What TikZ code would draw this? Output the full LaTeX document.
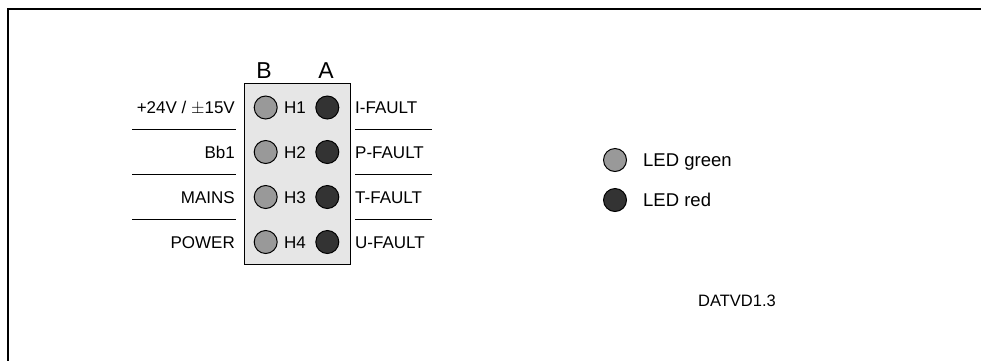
\documentclass[tikz,border=0pt]{standalone}
\usepackage{fontspec}
\setmainfont{Liberation Sans}
\definecolor{ledgreen}{HTML}{999999}
\definecolor{ledred}{HTML}{333333}
\definecolor{boxfill}{HTML}{E6E6E6}
\tikzset{
  lbl/.style={font=\fontsize{17}{20}\selectfont, inner sep=0pt},
  hdr/.style={font=\fontsize{23}{26}\selectfont, inner sep=0pt, anchor=base},
  ledbase/.style={circle, draw=black, line width=1pt, minimum size=23pt, inner sep=0pt},
  ledg/.style={ledbase, fill=ledgreen},
  ledr/.style={ledbase, fill=ledred},
  sepline/.style={line width=0.9pt, draw=black},
  frameline/.style={line width=2pt, draw=black}
}
\begin{document}
\begin{tikzpicture}[x=1pt,y=-1pt]
\useasboundingbox (0,0) rectangle (981,360);
% frame
\coordinate (fbl) at (8,361);
\coordinate (ftl) at (8,9);
\coordinate (ftr) at (982,9);
\draw[frameline] (fbl) -- (ftl) -- (ftr);
% panel box
\node[draw=black, line width=1pt, fill=boxfill, minimum width=106pt, minimum height=181pt, inner sep=0pt, anchor=north west] (panel) at (244,83) {};
% headers
\node[hdr] (hB) at (264,78) {B};
\node[hdr] (hA) at (326,78) {A};
% LEDs and labels
\foreach \i/\y/\l/\r in {1/107.5/{+24V / $\pm$15V}/I-FAULT, 2/152/Bb1/P-FAULT, 3/197/MAINS/T-FAULT, 4/242/POWER/U-FAULT}{
  \node[ledg] (g\i) at (265.7,\y) {};
  \node[ledr] (r\i) at (327.3,\y) {};
  \node[lbl, anchor=base] (h\i) at (295,\y+6.1) {H\i};
  \node[lbl, anchor=base east] (l\i) at (235,\y+6.1) {\l};
  \node[lbl, anchor=base west] (rt\i) at (355,\y+6.1) {\r};
}
% separator lines
\foreach \j/\y in {1/129, 2/174, 3/219.3}{
  \coordinate (sl\j a) at (132,\y);
  \coordinate (sl\j b) at (236,\y);
  \coordinate (sr\j a) at (355,\y);
  \coordinate (sr\j b) at (432,\y);
  \draw[sepline] (sl\j a) -- (sl\j b);
  \draw[sepline] (sr\j a) -- (sr\j b);
}
% legend
\node[ledg] (lg) at (615,160) {};
\node[ledr] (lr) at (615,200) {};
\node[lbl, font=\fontsize{18.5}{22}\selectfont, anchor=base west] (tg) at (643,166.5) {LED green};
\node[lbl, font=\fontsize{18.5}{22}\selectfont, anchor=base west] (tr) at (643,206.5) {LED red};
% code
\node[lbl, font=\fontsize{16.5}{20}\selectfont, anchor=base west] (code) at (698,306.5) {DATVD1.3};
\end{tikzpicture}
\end{document}
